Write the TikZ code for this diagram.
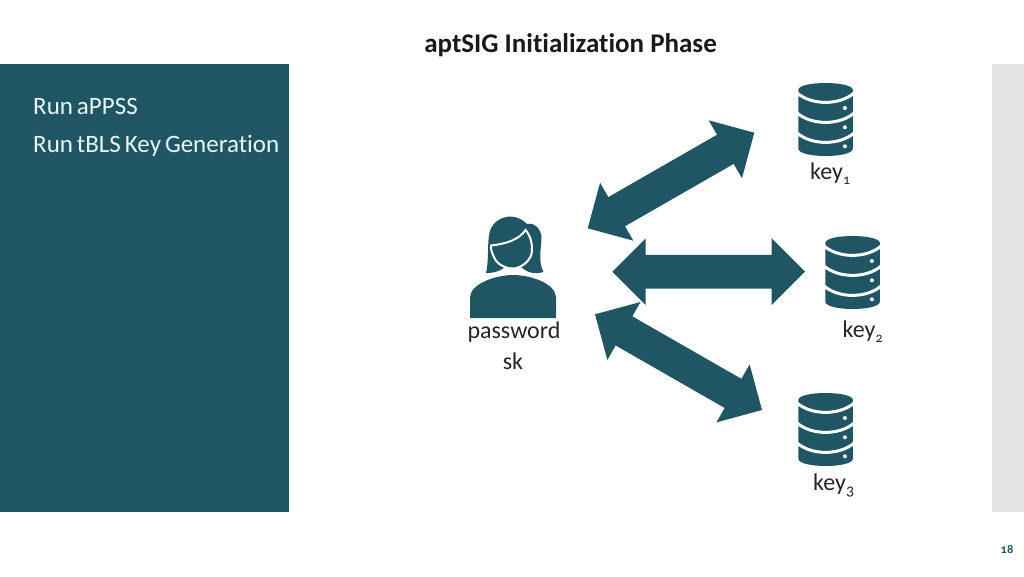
\documentclass[tikz,border=0pt]{standalone}
\usepackage{fontspec}
\setmainfont[Numbers=OldStyle,Ligatures=NoCommon,WordSpace=0.7]{Carlito}
\newfontfamily\titlefont[Ligatures=NoCommon]{Carlito}
\usetikzlibrary{calc}
\definecolor{deepteal}{HTML}{205664}
\definecolor{sidegray}{HTML}{E3E3E3}
\definecolor{paneltext}{HTML}{E8F6F6}
\newcommand{\subtxt}[2]{\raisebox{-0.22em}{\fontsize{#1}{16}\selectfont #2}}
\newcommand{\blockarrow}[2]{%
  \coordinate (na) at ($(#1)!33.4pt!(#2)$);
  \coordinate (nb) at ($(#2)!33.4pt!(#1)$);
  \fill[deepteal]
    (#1) -- ($(na)!33.4pt!90:(#1)$) -- ($(na)!16.8pt!90:(#1)$)
    -- ($(nb)!16.8pt!-90:(#2)$) -- ($(nb)!33.4pt!-90:(#2)$)
    -- (#2) -- ($(nb)!33.4pt!90:(#2)$) -- ($(nb)!16.8pt!90:(#2)$)
    -- ($(na)!16.8pt!-90:(#1)$) -- ($(na)!33.4pt!-90:(#1)$) -- cycle;}
\tikzset{
  label text/.style={font=\fontsize{24}{27}\selectfont, text=black!85, inner sep=0pt, anchor=base},
  key text/.style={font=\fontsize{24}{27}\selectfont, text=black!85, inner sep=0pt, anchor=base west},
  panel text/.style={font=\fontsize{25}{28}\selectfont, text=paneltext, inner sep=0pt, anchor=base west},
  db/.pic={
    \fill[deepteal] (-27.3,7) .. controls (-27.3,-2.3) and (27.3,-2.3) .. (27.3,7)
      -- (27.3,65.5) .. controls (27.3,75.5) and (-27.3,75.5) .. (-27.3,65.5) -- cycle;
    \foreach \yy in {10,30,50}{
      \draw[white,line width=3pt] (-28.5,\yy) .. controls (-14,\yy+12.5) and (14,\yy+12.5) .. (28.5,\yy);
    }
    \foreach \yy in {25,44.3,63.3}{
      \fill[white] (19.3,\yy) circle (2);
    }
  }
}
\begin{document}
\begin{tikzpicture}[x=1pt,y=-1pt]
\useasboundingbox (0,0) rectangle (1024,576);
\fill[white] (0,0) rectangle (1024,576);
\fill[deepteal] (0,64) rectangle (289,512);
\fill[sidegray] (992,64) rectangle (1024,512);

\node[font=\titlefont\bfseries\fontsize{27}{30}\selectfont, text=black!90, inner sep=0pt, anchor=base] (title) at (570.5,52) {aptSIG Initialization Phase};
\node[panel text] (run1) at (33,114) {Run aPPSS};
\node[panel text] (run2) at (33,152) {Run tBLS Key Generation};

% person
\fill[deepteal] (470,318) -- (470,297) .. controls (471,283) and (497,275) .. (513,275)
  .. controls (530,275) and (555,283) .. (556,297) -- (556,318) -- cycle;
\fill[deepteal] (486,273) .. controls (489,262) and (487,240) .. (490,231)
  .. controls (493,221) and (503,216.5) .. (511,216.5)
  .. controls (518,217) and (523,220) .. (527,224)
  .. controls (535,222) and (541,230) .. (541.5,237)
  .. controls (541,250) and (538,262) .. (543.5,272)
  .. controls (536,274) and (529,274) .. (521,267)
  -- (505,267) .. controls (499,272) and (493,273) .. (486,273) -- cycle;
\draw[white,line width=2pt,fill=deepteal] (491,245.5)
  .. controls (505,244) and (519,240) .. (525.5,230)
  .. controls (531,236) and (533,246) .. (531.5,254)
  .. controls (529,263) and (519,268.5) .. (513,268.5)
  .. controls (504,268.5) and (496,263) .. (494,257)
  .. controls (492,253) and (490.5,249) .. (491,245.5) -- cycle;
\node[label text] (pw) at (514,338) {password};
\node[label text] (sk) at (513,369) {sk};

% databases
\pic (k1) at (825.6,83) {db};
\pic (k2) at (852.6,236) {db};
\pic (k3) at (825.6,393) {db};
\node[key text] (key1) at (810,179) {key\subtxt{14}{1}};
\node[key text] (key2) at (842.5,337) {key\subtxt{14}{2}};
\node[key text] (key3) at (813,490) {key\subtxt{16}{3}};

% double arrows
\coordinate (a1) at (754.3,132.7);
\coordinate (b1) at (587.7,228.3);
\coordinate (a2) at (805,271.7);
\coordinate (b2) at (612.3,271.7);
\coordinate (a3) at (762,410);
\coordinate (b3) at (595,314.3);
\blockarrow{a1}{b1}
\blockarrow{a2}{b2}
\blockarrow{a3}{b3}

\node[font=\bfseries\fontsize{12.5}{14}\selectfont, text=deepteal, inner sep=0pt] (page) at (1007,549) {18};
\end{tikzpicture}
\end{document}
